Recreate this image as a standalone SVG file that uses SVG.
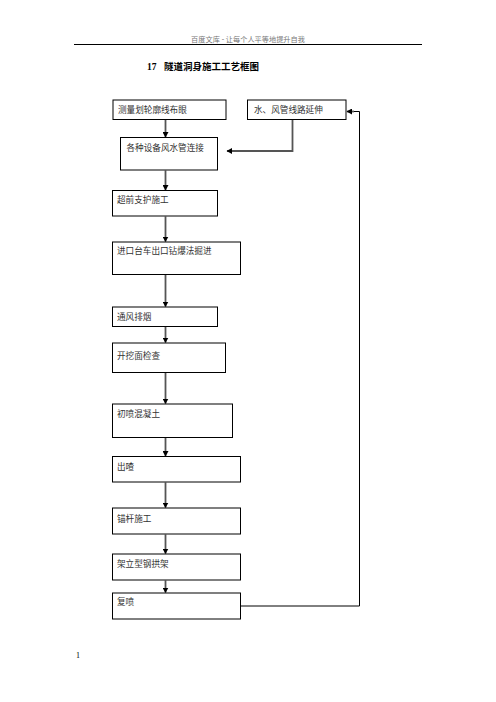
<svg xmlns="http://www.w3.org/2000/svg" width="496" height="702" viewBox="0 0 496 702">
<style>
.box{fill:#fff;stroke:#000;stroke-width:1}
.t{font-family:"Liberation Serif","Noto Sans CJK SC",serif;font-size:8.6px;fill:#333}
.c{fill:none;stroke:#555;stroke-width:1.8}
.r{fill:none;stroke:#000;stroke-width:1}
</style>
<defs>
<marker id="ah" markerWidth="6" markerHeight="6" refX="5" refY="3" orient="auto" markerUnits="userSpaceOnUse">
<path d="M0,0 L5.5,3 L0,6 Z" fill="#000"/>
</marker>
</defs>
<rect width="496" height="702" fill="#fff"/>
<g id="header">
<text x="248" y="41.5" text-anchor="middle" font-family="Liberation Serif,'Noto Sans CJK SC',serif" font-size="7.2" fill="#777">百度文库 - 让每个人平等地提升自我</text>
<line x1="74" y1="44.5" x2="422" y2="44.5" stroke="#000" stroke-width="1"/>
<text x="147" y="70" font-family="Liberation Serif,'Noto Sans CJK SC',serif" font-size="9.5" font-weight="bold" fill="#000">17<tspan x="164">隧道洞身施工工艺框图</tspan></text>
<text x="76" y="658" font-family="Liberation Serif,serif" font-size="8" fill="#000">1</text>
</g>
<g id="connectors">
<line class="c" x1="165.5" y1="119.5" x2="165.5" y2="137" marker-end="url(#ah)"/>
<polyline class="c" points="292.5,119.5 292.5,151 227,151" marker-end="url(#ah)"/>
<line class="c" x1="165.5" y1="170.5" x2="165.5" y2="190" marker-end="url(#ah)"/>
<line class="c" x1="165.5" y1="216.5" x2="165.5" y2="241.5" marker-end="url(#ah)"/>
<line class="c" x1="165.5" y1="274.5" x2="165.5" y2="306.5" marker-end="url(#ah)"/>
<line class="c" x1="165.5" y1="326.5" x2="165.5" y2="342.5" marker-end="url(#ah)"/>
<line class="c" x1="165.5" y1="372.5" x2="165.5" y2="403.5" marker-end="url(#ah)"/>
<line class="c" x1="165.5" y1="437.5" x2="165.5" y2="456" marker-end="url(#ah)"/>
<line class="c" x1="165.5" y1="482.5" x2="165.5" y2="507.5" marker-end="url(#ah)"/>
<line class="c" x1="165.5" y1="534.5" x2="165.5" y2="553.5" marker-end="url(#ah)"/>
<line class="c" x1="165.5" y1="580.5" x2="165.5" y2="592.5" marker-end="url(#ah)"/>
<polyline class="r" points="240.5,606 359.5,606 359.5,111.5 353,111.5"/>
<line class="c" x1="354" y1="111.5" x2="347" y2="111.5" marker-end="url(#ah)"/>
</g>
<g id="n1"><rect class="box" x="113" y="100" width="113" height="19.5"/><text class="t" x="118" y="112.5">测量划轮廓线布眼</text></g>
<g id="n2"><rect class="box" x="247.5" y="100" width="98.5" height="19.5"/><text class="t" x="254" y="112.5">水、风管线路延伸</text></g>
<g id="n3"><rect class="box" x="120.5" y="137.5" width="97" height="32.5"/><text class="t" x="126.5" y="151">各种设备风水管连接</text></g>
<g id="n4"><rect class="box" x="112.5" y="190.5" width="105" height="25.5"/><text class="t" x="117" y="203">超前支护施工</text></g>
<g id="n5"><rect class="box" x="112.5" y="242" width="128" height="32.5"/><text class="t" x="117" y="254">进口台车出口钻爆法掘进</text></g>
<g id="n6"><rect class="box" x="112.5" y="307" width="105" height="19.5"/><text class="t" x="117" y="320">通风排烟</text></g>
<g id="n7"><rect class="box" x="112.5" y="343" width="113" height="29.5"/><text class="t" x="117" y="359">开挖面检查</text></g>
<g id="n8"><rect class="box" x="112.5" y="404" width="120" height="33.5"/><text class="t" x="117" y="417">初喷混凝土</text></g>
<g id="n9"><rect class="box" x="112.5" y="456.5" width="128" height="25.5"/><text class="t" x="117" y="470">出喳</text></g>
<g id="n10"><rect class="box" x="112.5" y="508" width="128" height="26"/><text class="t" x="117" y="521.5">锚杆施工</text></g>
<g id="n11"><rect class="box" x="112.5" y="554" width="128" height="26"/><text class="t" x="117" y="566.5">架立型钢拱架</text></g>
<g id="n12"><rect class="box" x="112.5" y="593" width="128" height="26"/><text class="t" x="117" y="605">复喷</text></g>
</svg>
